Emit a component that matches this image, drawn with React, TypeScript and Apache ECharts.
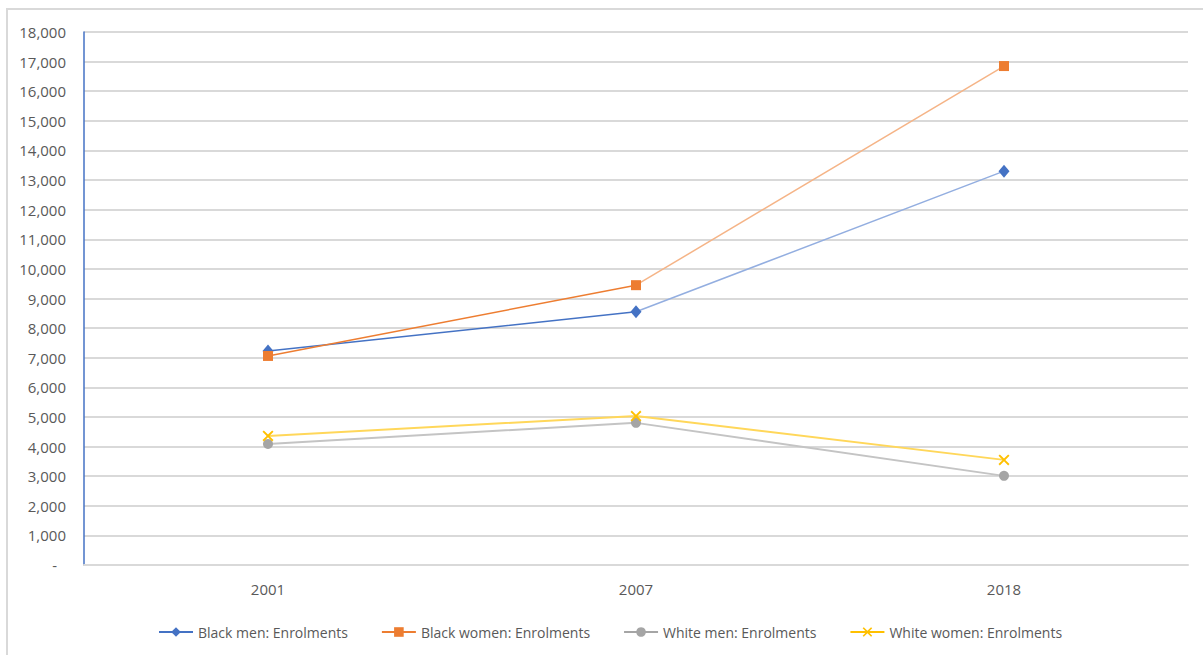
import React, { useEffect, useRef } from "react";
import * as echarts from "echarts";

// Enrolments by group and year
const years = ["2001", "2007", "2018"];
const blackMen = [7230, 8550, 13300];
const blackWomen = [7060, 9450, 16850];
const whiteMen = [4090, 4800, 3010];
const whiteWomen = [4360, 5030, 3550];

const seriesNames = [
  "Black men: Enrolments",
  "Black women: Enrolments",
  "White men: Enrolments",
  "White women: Enrolments",
];

const yMin = 0;
const yMax = 18000;
const yStep = 1000;

const FONT = "'Open Sans', 'Noto Sans', sans-serif";
const TEXT = "#595959";
const BLUE = "#4472C4";
const ORANGE = "#ED7D31";
const GRAY = "#A5A5A5";
const GOLD = "#FFC000";

// filled "x" cross marker
const CROSS =
  "path://M0,1.2L1.2,0L5,3.8L8.8,0L10,1.2L6.2,5L10,8.8L8.8,10L5,6.2L1.2,10L0,8.8L3.8,5Z";

// line that fades to a lighter tone on its second segment
const splitColor = (a: string, b: string) =>
  new echarts.graphic.LinearGradient(0, 0, 1, 0, [
    { offset: 0, color: a },
    { offset: 0.5, color: a },
    { offset: 0.5, color: b },
    { offset: 1, color: b },
  ]);

export default function App() {
  const ref = useRef<HTMLDivElement>(null);

  useEffect(() => {
    if (!ref.current) return;
    const chart = echarts.init(ref.current, null, { renderer: "svg" });

    const fmt = (v: number) =>
      v === 0 ? "{d|-}" : v.toLocaleString("en-US");

    chart.setOption({
      animation: false,
      backgroundColor: "#ffffff",
      textStyle: { fontFamily: FONT, color: TEXT },
      graphic: [
        {
          type: "line",
          shape: { x1: 7, y1: 9, x2: 1203, y2: 9 },
          style: { stroke: "#d9d9d9", lineWidth: 2 },
        },
        {
          type: "line",
          shape: { x1: 7, y1: 8, x2: 7, y2: 655 },
          style: { stroke: "#d9d9d9", lineWidth: 2 },
        },
      ],
      grid: { left: 84, top: 32, right: 15, bottom: 90, containLabel: false },
      legend: {
        left: 153,
        top: 620,
        itemWidth: 34,
        itemHeight: 12,
        itemGap: 33,
        textStyle: { fontFamily: FONT, color: TEXT, fontSize: 14 },
        data: [
          { name: seriesNames[0], lineStyle: { color: BLUE } },
          { name: seriesNames[1], lineStyle: { color: ORANGE } },
          { name: seriesNames[2], lineStyle: { color: GRAY } },
          { name: seriesNames[3], lineStyle: { color: GOLD } },
        ],
      },
      xAxis: {
        type: "category",
        data: years,
        boundaryGap: true,
        axisLine: { show: true, lineStyle: { color: "#d9d9d9", width: 2 } },
        axisTick: { show: false },
        axisLabel: {
          margin: 16,
          fontSize: 15,
          color: TEXT,
          fontFamily: FONT,
        },
      },
      yAxis: {
        type: "value",
        min: yMin,
        max: yMax,
        interval: yStep,
        axisLine: { show: true, lineStyle: { color: BLUE, width: 1.5 } },
        axisTick: { show: false },
        splitLine: { lineStyle: { color: "#d9d9d9", width: 2 } },
        axisLabel: {
          margin: 18,
          fontSize: 15,
          color: TEXT,
          fontFamily: FONT,
          formatter: fmt,
          rich: { d: { padding: [0, 9, 0, 0], fontSize: 15, color: TEXT } },
        },
      },
      series: [
        {
          name: seriesNames[0],
          type: "line",
          data: blackMen,
          symbol: "diamond",
          symbolSize: [11, 13],
          itemStyle: { color: BLUE },
          lineStyle: { width: 1.5, color: splitColor(BLUE, "#93AEE0") },
          z: 4,
        },
        {
          name: seriesNames[1],
          type: "line",
          data: blackWomen,
          symbol: "rect",
          symbolSize: 10,
          itemStyle: { color: ORANGE },
          lineStyle: { width: 1.5, color: splitColor(ORANGE, "#F5B487") },
          z: 5,
        },
        {
          name: seriesNames[2],
          type: "line",
          data: whiteMen,
          symbol: "circle",
          symbolSize: 10,
          itemStyle: { color: GRAY },
          lineStyle: { width: 2, color: "#C4C4C4" },
          z: 3,
        },
        {
          name: seriesNames[3],
          type: "line",
          data: whiteWomen,
          symbol: CROSS,
          symbolSize: 11,
          itemStyle: { color: GOLD },
          lineStyle: { width: 2, color: "#FFD75A" },
          z: 4,
        },
      ],
    });

    return () => chart.dispose();
  }, []);

  return (
    <div
      ref={ref}
      style={{ position: "fixed", left: 0, top: 0, width: 1203, height: 655 }}
    />
  );
}
